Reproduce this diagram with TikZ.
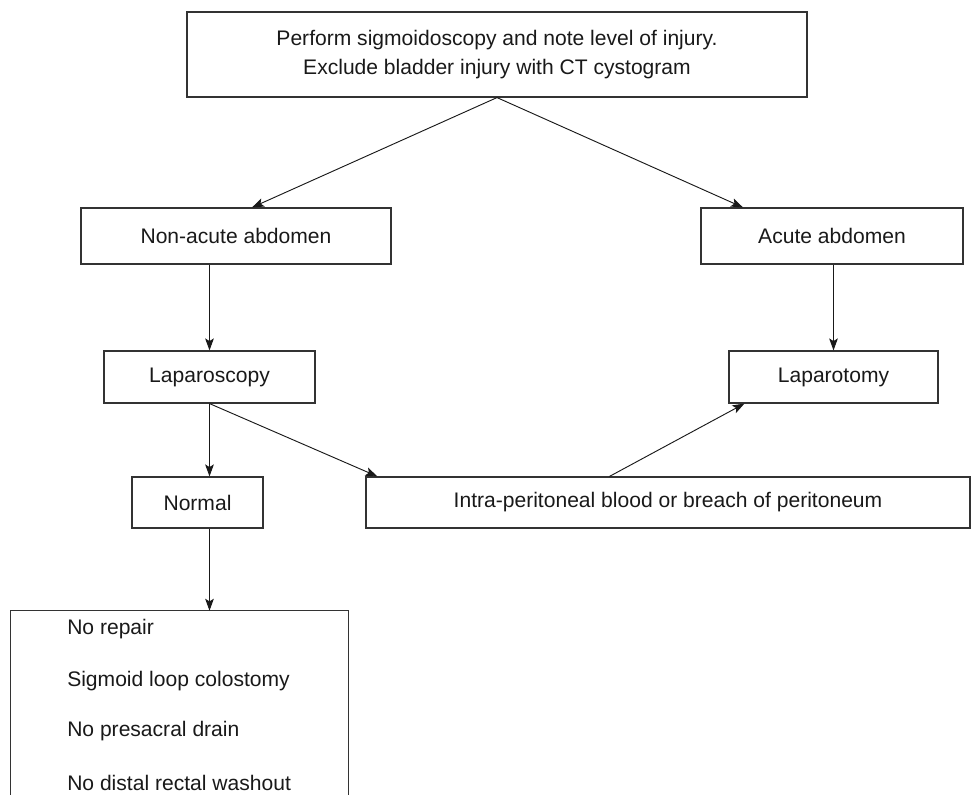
\documentclass[tikz,border=0pt]{standalone}
\usepackage{fontspec}
\setmainfont{Liberation Sans}
\usetikzlibrary{arrows.meta}
\begin{document}
\begin{tikzpicture}[x=0.75pt,y=-0.75pt,
  box/.style={draw=black!80, line width=0.85pt, inner sep=0pt, font=\fontsize{15.8}{21.75}\selectfont, text=black!90},
  item/.style={anchor=west, inner sep=0pt, font=\fontsize{15.8}{18}\selectfont, text=black!90},
  arr/.style={draw=black!90, line width=0.7pt, -{Stealth[length=9pt,width=6.5pt,inset=2pt]}}]
\useasboundingbox (0,0) rectangle (976,794);
\node[box, minimum width=465pt, minimum height=63.75pt, align=center] (top) at (497,54.5)
  {Perform sigmoidoscopy and note level of injury.\\Exclude bladder injury with CT cystogram};
\node[box, minimum width=232.5pt, minimum height=42pt] (na) at (236,236) {Non-acute abdomen};
\node[box, minimum width=196.5pt, minimum height=42pt] (ac) at (832,236) {Acute abdomen};
\node[box, minimum width=158.25pt, minimum height=39pt] (lps) at (209.5,377) {Laparoscopy};
\node[box, minimum width=156.75pt, minimum height=39pt] (lpt) at (833.5,377) {Laparotomy};
\node[box, minimum width=98.25pt, minimum height=38.25pt] (nor) at (197.5,502.5) {Normal};
\node[box, minimum width=453pt, minimum height=38.25pt] (intra) at (668,502.5) {Intra-peritoneal blood or breach of peritoneum};
\node[inner sep=0pt, minimum width=252.75pt, minimum height=141.75pt] (bot) at (179.5,705.5) {};
\draw[draw=black!80, line width=0.85pt] (bot.south west) |- (bot.north east) -- (bot.south east);
\node[item] (t1) at (67,629) {No repair};
\node[item] (t2) at (67,681) {Sigmoid loop colostomy};
\node[item] (t3) at (67,731) {No presacral drain};
\node[item] (t4) at (67,783) {No distal rectal washout};
\draw[arr] (top.south) -- ([xshift=12pt]na.north);
\draw[arr] (top.south) -- ([xshift=-66.75pt]ac.north);
\draw[arr] (na.south -| lps.north) -- (lps.north);
\draw[arr] (ac.south -| lpt.north) -- (lpt.north);
\draw[arr] (lps.south) -- (lps.south |- nor.north);
\draw[arr] (lps.south) -- ([xshift=9pt]intra.north west);
\draw[arr] ([xshift=183pt]intra.north west) -- ([xshift=12pt]lpt.south west);
\draw[arr] (lps.south |- nor.south) -- (lps.south |- bot.north);
\end{tikzpicture}
\end{document}
